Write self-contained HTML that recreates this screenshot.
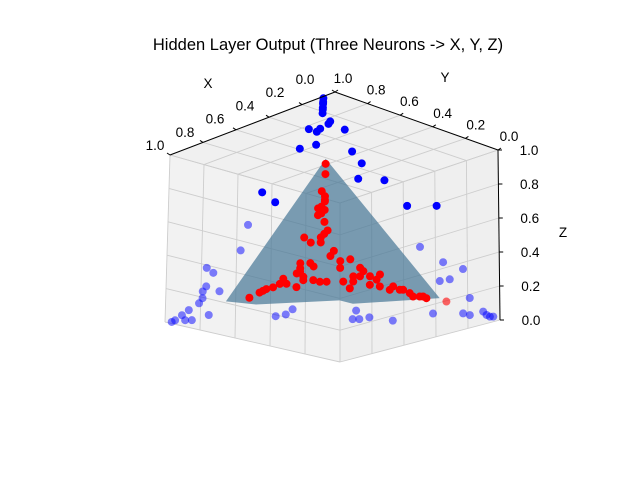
<!DOCTYPE html>
<html><head><meta charset="utf-8"><style>
body{margin:0;background:#fff;}
svg{display:block;font-family:"Liberation Sans",sans-serif;}
</style></head><body>
<svg id="chart" width="640" height="480" viewBox="0 0 640 480">
<rect x="0" y="0" width="640" height="480" fill="#fff"/>
<text x="328" y="50" font-size="16.5" text-anchor="middle">Hidden Layer Output (Three Neurons -&gt; X, Y, Z)</text>
<g id="panes"></g>
<g id="grid"></g>
<g id="surf"></g>
<g id="pts"></g>
<g id="axes"></g>
<text x="208" y="88" font-size="13.5" text-anchor="middle">X</text>
<text x="445" y="82" font-size="13.5" text-anchor="middle">Y</text>
<text x="563" y="237" font-size="13.5" text-anchor="middle">Z</text>
</svg>
<script>
const ticks=[0,0.2,0.4,0.6,0.8,1.0];
const tickLabels=["0.0","0.2","0.4","0.6","0.8","1.0"];
// blue points (x, y, z)
const blueX=[0.07,0.07,0.07,0.07,0.07,0.07,0.02,0.03,0.08,0.1,0.15,0,0.1,0.2,0.45,0.42,0.43,0.35,0.72,0.68,0.28,0.19,0.76,0.78,0.24,0.17,0.11,0.88,0.86,0.15,0.18,0.88,0.84,0.89,0.89,0.9,0.09,0.93,0.87,0.95,0.92,0.98,0.97,0.94,0.67,0.64,0.62,0.43,0.39,0.44,0.42,0.32,0.2,0.11,0.09,0.05,0.04,0.02,0.03];
const blueY=[1,1,1,1,1,1,1,1,1,1,1,0.93,1,1,0.45,0.42,0.43,0.35,0.72,0.68,0.28,0.19,0.76,0.78,0.24,0.17,0.11,0.88,0.86,0.15,0.18,0.88,0.84,0.89,0.89,0.9,0.09,0.93,0.87,0.95,0.92,0.98,0.97,0.94,0.67,0.64,0.62,0.43,0.39,0.44,0.42,0.32,0.2,0.11,0.09,0.05,0.04,0.02,0.03];
const blueZ=[0.99,0.97,0.96,0.94,0.93,0.91,0.85,0.84,0.83,0.82,0.85,0.82,0.75,0.76,0.99,0.92,0.83,0.82,0.76,0.70,0.67,0.67,0.57,0.42,0.43,0.34,0.30,0.32,0.29,0.24,0.23,0.21,0.18,0.18,0.14,0.11,0.13,0.07,0.04,0.04,0.01,0,0.01,0.01,0.03,0.04,0.07,0.06,0.02,0.01,0.01,0,0.04,0.04,0.03,0.05,0.03,0.02,0.02];
// red points (x = y, z)
const redXY=[0.53,0.53,0.54,0.53,0.53,0.53,0.54,0.55,0.53,0.55,0.54,0.53,0.52,0.53,0.54,0.59,0.57,0.54,0.50,0.51,0.48,0.45,0.48,0.60,0.57,0.56,0.60,0.60,0.61,0.59,0.42,0.41,0.44,0.42,0.39,0.36,0.37,0.39,0.36,0.47,0.44,0.45,0.52,0.54,0.56,0.59,0.61,0.64,0.65,0.66,0.68,0.70,0.71,0.72,0.75,0.33,0.32,0.30,0.29,0.27,0.26,0.24,0.23,0.22,0.16];
const redZ=[0.92,0.86,0.76,0.73,0.71,0.70,0.67,0.66,0.65,0.62,0.63,0.58,0.53,0.51,0.49,0.49,0.46,0.46,0.41,0.38,0.35,0.36,0.31,0.34,0.34,0.32,0.31,0.29,0.28,0.26,0.31,0.29,0.26,0.26,0.26,0.27,0.24,0.21,0.20,0.23,0.23,0.19,0.23,0.23,0.24,0.24,0.20,0.22,0.25,0.22,0.20,0.19,0.18,0.17,0.14,0.18,0.20,0.18,0.18,0.16,0.14,0.14,0.14,0.13,0.11];
// surface vertices (x = y, z)
const surfXY=[0.53,0.82,0.73,0.48,0.44,0.18];
const surfZ=[0.95,0.12,0.10,0.12,0.10,0.13];

const NS="http://www.w3.org/2000/svg";
const C={"000":[500,320],"100":[340,362],"010":[325,280],"110":[165,322],"001":[498,150],"101":[340,203],"011":[335,92],"111":[170,155]};
function proj(x,y,z){
  let sx=0,sy=0;
  for(const a of [0,1])for(const b of [0,1])for(const c of [0,1]){
    const w=(a?x:1-x)*(b?y:1-y)*(c?z:1-z);
    const p=C[""+a+b+c];sx+=w*p[0];sy+=w*p[1];
  }
  return [sx,sy];
}
function mk(tag,attrs,parent){const e=document.createElementNS(NS,tag);for(const k in attrs)e.setAttribute(k,attrs[k]);parent.appendChild(e);return e;}
function pts(list){return list.map(p=>proj(...p).map(v=>v.toFixed(1)).join(",")).join(" ");}
const panes=document.getElementById('panes'),grid=document.getElementById('grid'),surf=document.getElementById('surf'),ptsG=document.getElementById('pts'),axes=document.getElementById('axes');

let e;
e=mk('polygon',{points:pts([[1,1,1],[1,0,1],[1,0,0],[1,1,0]]),fill:"#f2f2f2"},panes);


e=mk('polygon',{points:pts([[1,0,1],[0,0,1],[0,0,0],[1,0,0]]),fill:"#efefef"},panes);


e=mk('polygon',{points:pts([[1,1,1],[0,1,1],[0,0,1],[1,0,1]]),fill:"#f0f0f0"},panes);



ticks.forEach(t=>{
  const segs=[[[1,t,0],[1,t,1]],[[1,0,t],[1,1,t]],[[t,0,0],[t,0,1]],[[0,0,t],[1,0,t]],[[t,0,1],[t,1,1]],[[0,t,1],[1,t,1]]];
  segs.forEach(s=>{
    const a=proj(...s[0]),b=proj(...s[1]);
    const l=mk('line',{x1:a[0],y1:a[1],x2:b[0],y2:b[1],stroke:"#cdcdcd","stroke-width":0.9},grid);
    
    
  });
});

const sp=surfXY.map((v,i)=>[v,v,surfZ[i]]);
e=mk('polygon',{points:pts(sp),fill:"rgb(70,118,150)","fill-opacity":0.7},surf);



blueX.forEach((x,i)=>{
  const p=proj(x,blueY[i],blueZ[i]);
  const c=mk('circle',{cx:p[0],cy:p[1],r:4,fill:"#0000ff","fill-opacity":blueZ[i]>0.6?1:0.5},ptsG);
  
  
});
redXY.forEach((v,i)=>{
  const p=proj(v,v,redZ[i]);
  const c=mk('circle',{cx:p[0],cy:p[1],r:4,fill:"#ff0000","fill-opacity":v<0.2?0.6:1},ptsG);
  
  
});

function axisLine(a,b,name){const p=proj(...a),q=proj(...b);const l=mk('line',{x1:p[0],y1:p[1],x2:q[0],y2:q[1],stroke:"#000","stroke-width":1},axes);}
axisLine([1,1,1],[0,1,1],'x-axis-line');
axisLine([0,1,1],[0,0,1],'y-axis-line');
axisLine([0,0,0],[0,0,1],'z-axis-line');
ticks.forEach((t,i)=>{
  let p=proj(t,1,1);
  let tk=mk('line',{x1:p[0],y1:p[1],x2:p[0]-3,y2:p[1]-2,stroke:"#000"},axes);
  
  
  let tx=mk('text',{x:p[0]-30+15*t,y:p[1]-13+3*t+5,"font-size":13.5,"text-anchor":"middle"},axes);
  tx.textContent=tickLabels[i];
  
  
  p=proj(0,t,1);
  tk=mk('line',{x1:p[0],y1:p[1],x2:p[0]+3,y2:p[1]-2,stroke:"#000"},axes);
  
  
  tx=mk('text',{x:p[0]+11-3*t,y:p[1]-14+5,"font-size":13.5,"text-anchor":"middle"},axes);
  tx.textContent=tickLabels[i];
  
  
  p=proj(0,0,t);
  tk=mk('line',{x1:p[0],y1:p[1],x2:p[0]+4,y2:p[1],stroke:"#000"},axes);
  
  
  tx=mk('text',{x:p[0]+31,y:p[1]+5,"font-size":13.5,"text-anchor":"middle"},axes);
  tx.textContent=tickLabels[i];
  
  
});
</script>
</body></html>
